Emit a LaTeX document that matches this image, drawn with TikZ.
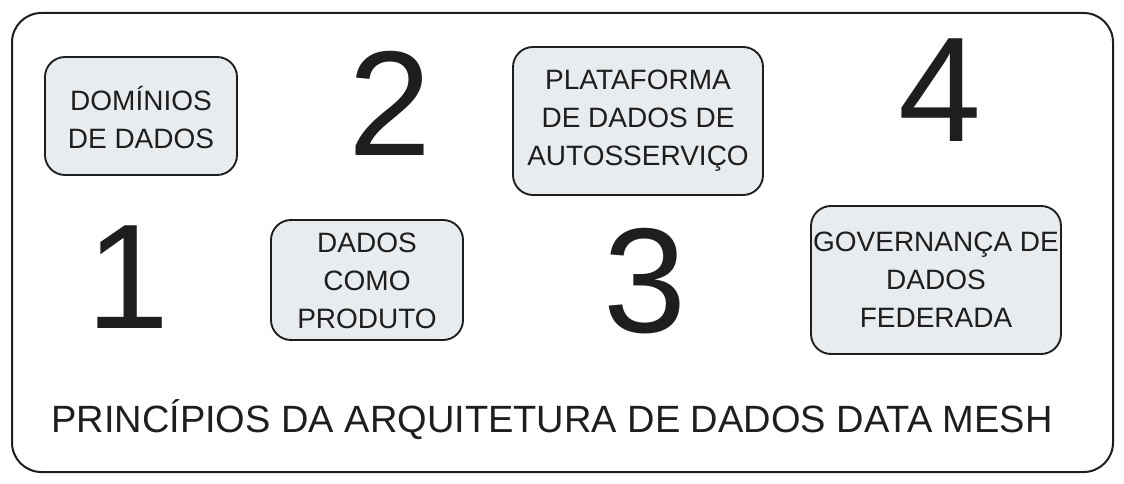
\documentclass[tikz,border=0pt]{standalone}
\usepackage{fontspec}
\setmainfont{Liberation Sans}
\definecolor{boxfill}{HTML}{E9ECEF}
\definecolor{ink}{HTML}{1E1E1E}
\begin{document}
\begin{tikzpicture}[x=0.75pt,y=-0.75pt,
  frame/.style={draw=ink,line width=1.5pt,rounded corners=22pt},
  pbox/.style={draw=ink,fill=boxfill,line width=1.4pt,rounded corners=15pt},
  ptext/.style={text=ink,font=\fontsize{21}{28.5}\selectfont,align=center},
  num/.style={text=ink,font=\fontsize{112}{112}\selectfont},
  title/.style={text=ink,font=\fontsize{28.5}{30}\selectfont}]
\useasboundingbox (0,0) rectangle (1124,484);
\draw[frame] (12,13) rectangle (1113,472);
% boxes
\draw[pbox] (45,57) rectangle (237,175);
\node[ptext] (t1) at (141,117) {DOMÍNIOS\\DE DADOS};
\draw[pbox] (271,220) rectangle (463,340);
\node[ptext] (t2) at (367,281) {DADOS\\COMO\\PRODUTO};
\draw[pbox] (513,47) rectangle (763,195);
\node[ptext] (t3) at (638,121) {PLATAFORMA\\DE DADOS DE\\AUTOSSERVIÇO};
\draw[pbox] (811,206) rectangle (1061,354);
\node[ptext] (t4) at (936,280) {GOVERNANÇA DE\\DADOS\\FEDERADA};
% numbers
\node[num] (n1) at (128,277) {1};
\node[num] (n2) at (390,103) {2};
\node[num] (n3) at (645,281) {3};
\node[num] (n4) at (940,90) {4};
% title
\node[title] (title) at (552,420) {PRINCÍPIOS DA ARQUITETURA DE DADOS DATA MESH};
\end{tikzpicture}
\end{document}
